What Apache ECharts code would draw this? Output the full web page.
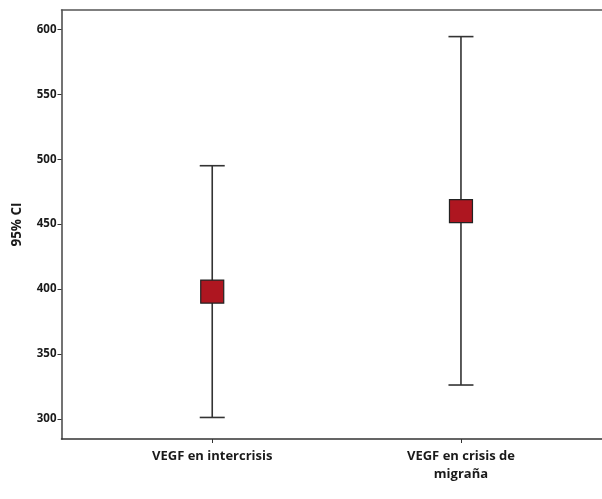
<!DOCTYPE html>
<html><head><meta charset="utf-8">
<script src="https://cdn.jsdelivr.net/npm/echarts@6/dist/echarts.min.js"></script>
<style>html,body{margin:0;padding:0;background:#fff}#c{width:602px;height:499px}</style>
</head><body><div id="c"></div>
<script>
var categories = ['VEGF en intercrisis', 'VEGF en crisis de\nmigraña'];
var means = [398, 460];
var lower = [301, 326];
var upper = [495, 594.5];
var yTicks = [300, 350, 400, 450, 500, 550, 600];

var font = '"Open Sans", Lato, sans-serif';
var chart = echarts.init(document.getElementById('c'));
var pos = categories.map(function(c, i){ return i + 1; });
chart.setOption({
  animation: false,
  grid: {left: 61.5, top: 10, right: 0, bottom: 60},
  xAxis: [{
    type: 'value', min: 0.394, max: 2.567,
    splitLine: {show: false},
    axisLine: {show: true, lineStyle: {color: '#333', width: 1.5}},
    axisTick: {show: true, customValues: pos, length: 4, inside: false, lineStyle: {color: '#333', width: 1}},
    axisLabel: {customValues: pos, margin: 8, color: '#1a1a1a', fontFamily: font, fontWeight: 'bold', fontSize: 13, lineHeight: 18,
      formatter: function(v){ return categories[Math.round(v) - 1] || ''; }}
  }, {
    type: 'value', position: 'top', min: 0.394, max: 2.567,
    splitLine: {show: false}, axisTick: {show: false}, axisLabel: {show: false},
    axisLine: {show: true, lineStyle: {color: '#555', width: 1.5}}
  }],
  yAxis: {
    type: 'value', min: 284.4, max: 615,
    name: '95% CI', nameLocation: 'middle', nameRotate: 90, nameGap: 37,
    nameTextStyle: {color: '#1a1a1a', fontFamily: font, fontWeight: 'bold', fontSize: 13.5},
    splitLine: {show: false},
    axisLine: {show: true, lineStyle: {color: '#444', width: 1.5}},
    axisTick: {show: true, customValues: yTicks, length: 4, lineStyle: {color: '#333', width: 1}},
    axisLabel: {customValues: yTicks, margin: 5, color: '#1a1a1a', fontFamily: font, fontWeight: 'bold', fontSize: 11.5}
  },
  series: [{
    type: 'custom',
    data: pos.map(function(p, i){ return [p, lower[i], upper[i]]; }),
    renderItem: function(params, api){
      var x = api.value(0);
      var lo = api.coord([x, api.value(1)]);
      var hi = api.coord([x, api.value(2)]);
      var hw = 12.5;
      var st = {stroke: '#333', lineWidth: 1.6, fill: null};
      return {type: 'group', children: [
        {type: 'line', shape: {x1: lo[0], y1: lo[1], x2: hi[0], y2: hi[1]}, style: st},
        {type: 'line', shape: {x1: lo[0]-hw, y1: lo[1], x2: lo[0]+hw, y2: lo[1]}, style: st},
        {type: 'line', shape: {x1: hi[0]-hw, y1: hi[1], x2: hi[0]+hw, y2: hi[1]}, style: st}
      ]};
    },
    z: 2
  }, {
    type: 'scatter',
    data: pos.map(function(p, i){ return [p, means[i]]; }),
    symbol: 'rect', symbolSize: 23,
    itemStyle: {color: '#AE1620', borderColor: '#222', borderWidth: 1.2, opacity: 1},
    z: 3
  }]
});
</script></body></html>
